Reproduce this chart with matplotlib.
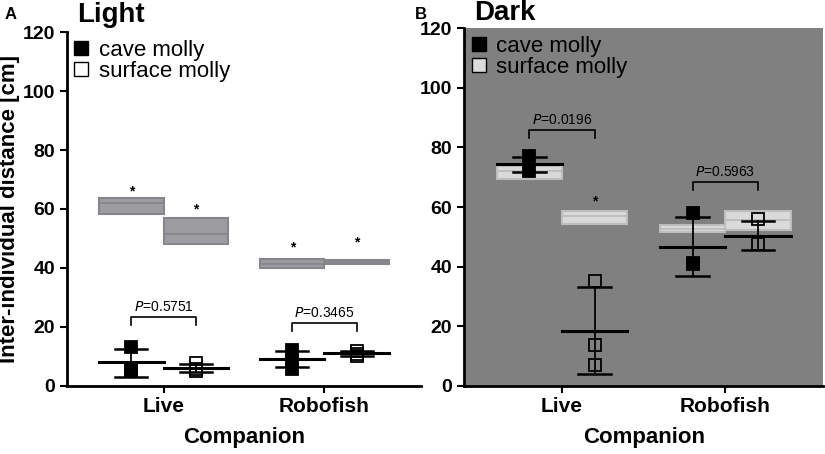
import numpy as np
import matplotlib
matplotlib.use("Agg")
import matplotlib.pyplot as plt
from matplotlib.patches import Rectangle

plt.rcParams['font.family'] = ['Liberation Sans', 'DejaVu Sans']

companions = ["Live", "Robofish"]

# panel A (light): individual points per group
light_cave_pts = [[13.3, 5.8, 5.2], [12.2, 9.0, 5.8]]
light_surf_pts = [[7.7, 5.2, 5.6], [12.0, 10.2, 11.0]]
light_cave_mean = [8.1, 9.2]
light_cave_err = [(3.1, 12.5), (6.5, 11.9)]
light_surf_mean = [6.1, 11.1]
light_surf_err = [(4.8, 7.4), (10.2, 12.0)]
# gray boxes (low, mid, high)
light_cave_box = [(58.4, 62.0, 63.8), (40.1, 41.5, 43.0)]
light_surf_box = [(48.2, 51.5, 57.0), (41.3, 41.9, 42.6)]
light_stars = [[66.0, 60.0], [47.0, 48.7]]
light_p = ["0.5751", "0.3465"]
light_p_y = [23.4, 21.3]

# panel B (dark)
dark_cave_pts = [[77.0, 72.0], [58.0, 41.0, 41.2]]
dark_surf_pts = [[35.2, 13.8, 7.0], [56.0, 47.6]]
dark_cave_mean = [74.5, 46.7]
dark_cave_err = [(71.8, 76.9), (36.9, 56.6)]
dark_surf_mean = [18.5, 50.4]
dark_surf_err = [(4.1, 33.3), (45.6, 55.3)]
dark_cave_box = [(69.3, 72.0, 73.9), (51.5, 52.6, 53.8)]
dark_surf_box = [(54.4, 57.0, 58.8), (52.3, 55.6, 58.8)]
dark_stars = [[None, 61.7], [None, None]]
dark_p = ["0.0196", "0.5963"]
dark_p_y = [85.8, 68.5]


def draw_panel(ax, cave_pts, surf_pts, cave_mean, cave_err, surf_mean, surf_err,
               cave_box, surf_box, stars, pvals, p_y, dark):
    box_fc = "#dadada" if dark else "#9d9ca1"
    box_ec = "#bdbdbd" if dark else "#86868a"
    surf_fc = "#dadada" if dark else "white"
    for i in range(len(companions)):
        for off, box in ((-0.2, cave_box[i]), (0.2, surf_box[i])):
            lo, mid, hi = box
            ax.add_patch(Rectangle((i + off - 0.2, lo), 0.4, hi - lo, fc=box_fc,
                                   ec=box_ec, lw=1.5, zorder=1))
            ax.plot([i + off - 0.2, i + off + 0.2], [mid, mid], color=box_ec, lw=1.3, zorder=1)
        for j, off in enumerate((-0.2, 0.2)):
            if stars[i][j] is not None:
                ax.text(i + off, stars[i][j], "*", ha="center", va="center",
                        fontsize=10, fontweight="bold")
        for off, pts, m, err, fc in ((-0.2, cave_pts[i], cave_mean[i], cave_err[i], "black"),
                                     (0.2, surf_pts[i], surf_mean[i], surf_err[i], "none")):
            x = i + off
            ax.plot([x] * len(pts), pts, "s", ms=8.5, mfc=fc, mec="black", mew=1.3, zorder=3)
            ax.plot([x - 0.2, x + 0.2], [m, m], color="black", lw=2.2, zorder=4)
            ax.plot([x, x], err, color="black", lw=1.3, zorder=4)
            for e in err:
                ax.plot([x - 0.1, x + 0.1], [e, e], color="black", lw=1.8, zorder=4)
        # significance bracket
        y = p_y[i]
        ax.plot([i - 0.2, i - 0.2, i + 0.2, i + 0.2], [y - 2.8, y, y, y - 2.8],
                color="black", lw=1.2)
        ax.text(i, y + 1.0, "$P$=" + pvals[i], ha="center", va="bottom", fontsize=10)

    ax.set_xlim(-0.6, 1.6)
    ax.set_ylim(0, 120)
    ax.set_yticks(range(0, 121, 20))
    ax.set_xticks(range(len(companions)))
    ax.set_xticklabels(companions)
    for s in ("top", "right"):
        ax.spines[s].set_visible(False)
    for s in ("left", "bottom"):
        ax.spines[s].set_linewidth(2)
    ax.tick_params(width=1.5, length=5, labelsize=14)
    ax.tick_params(axis="x", labelsize=15, pad=3)
    for lab in ax.get_xticklabels() + ax.get_yticklabels():
        lab.set_fontweight("bold")
    ax.set_xlabel("Companion", fontsize=16, fontweight="bold", labelpad=8)
    if dark:
        ax.set_facecolor("#808080")
    # legend
    h1, = ax.plot([], [], "s", ms=10, mfc="black", mec="black")
    h2, = ax.plot([], [], "s", ms=10, mfc=surf_fc, mec="black", mew=1)
    ax.legend([h1, h2], ["cave molly", "surface molly"], loc="upper left",
              frameon=False, fontsize=16, handlelength=0.6, handletextpad=0.5,
              borderaxespad=0.1, labelspacing=0.0, borderpad=0.25)


fig = plt.figure(figsize=(8.25, 4.54), dpi=100)
axA = fig.add_axes([0.0812, 0.1498, 0.4291, 0.7797])
axB = fig.add_axes([0.5625, 0.1498, 0.4355, 0.7885])

draw_panel(axA, light_cave_pts, light_surf_pts, light_cave_mean, light_cave_err,
           light_surf_mean, light_surf_err, light_cave_box, light_surf_box,
           light_stars, light_p, light_p_y, dark=False)
draw_panel(axB, dark_cave_pts, dark_surf_pts, dark_cave_mean, dark_cave_err,
           dark_surf_mean, dark_surf_err, dark_cave_box, dark_surf_box,
           dark_stars, dark_p, dark_p_y, dark=True)

axA.set_ylabel("Inter-individual distance [cm]", fontsize=16, fontweight="bold", labelpad=2)

fig.text(0.006, 0.985, "A", fontsize=12, fontweight="bold", va="top")
fig.text(0.094, 0.995, "Light", fontsize=20, fontweight="bold", va="top")
fig.text(0.503, 0.985, "B", fontsize=12, fontweight="bold", va="top")
fig.text(0.575, 1.0, "Dark", fontsize=20, fontweight="bold", va="top")

fig.savefig("out.png", dpi=100)
